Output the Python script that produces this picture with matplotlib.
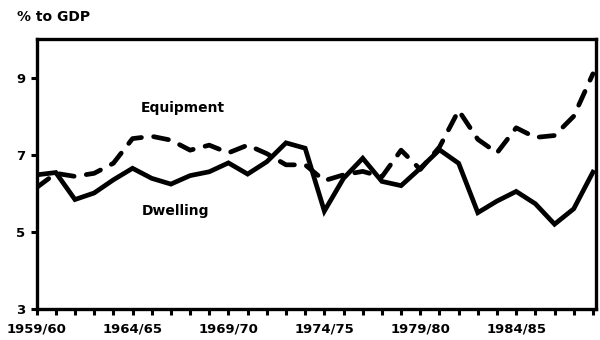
import matplotlib
matplotlib.use("Agg")
import matplotlib.pyplot as plt

years = [f"{y}/{(y + 1) % 100:02d}" for y in range(1959, 1989)]
dwelling = [6.48, 6.54, 5.84, 6.01, 6.35, 6.65, 6.39, 6.24, 6.46, 6.56,
            6.79, 6.50, 6.82, 7.31, 7.17, 5.54, 6.39, 6.91, 6.31, 6.20,
            6.65, 7.13, 6.78, 5.50, 5.80, 6.05, 5.73, 5.20, 5.60, 6.55]
equipment = [6.15, 6.52, 6.44, 6.52, 6.78, 7.42, 7.48, 7.38, 7.12, 7.25,
             7.05, 7.25, 7.03, 6.74, 6.74, 6.33, 6.48, 6.57, 6.43, 7.12,
             6.62, 7.20, 8.15, 7.40, 7.05, 7.70, 7.45, 7.50, 8.00, 9.10]
yticks = [3, 5, 7, 9]

plt.rcParams['font.family'] = ['DejaVu Sans']
plt.rcParams['font.weight'] = 'bold'

fig = plt.figure(figsize=(6, 3.4), dpi=100)
ax = fig.add_axes([0.061, 0.091, 0.932, 0.794])

x = list(range(len(years)))
ax.plot(x, dwelling, color='black', lw=3.4, solid_joinstyle='miter')
ax.plot(x, equipment, color='black', lw=3.4, dashes=(3.2, 2.6),
        dash_capstyle='round')

ax.set_xlim(0, 29.15)
ax.set_ylim(3, 10)
ax.set_yticks(yticks)
ax.set_yticklabels([str(v) for v in yticks])
ax.set_xticks(x)
ax.set_xticklabels([lab if i % 5 == 0 else '' for i, lab in enumerate(years)])

for s in ax.spines.values():
    s.set_linewidth(2.4)
ax.tick_params(axis='both', direction='out', length=4, width=2.2,
               labelsize=9.5, pad=4)
ax.tick_params(axis='x', pad=6)

# series labels sit inside the plot
ax.text(7.6, 8.22, 'Equipment', ha='center', va='center', fontsize=10,
        fontweight='bold')
ax.text(7.25, 5.53, 'Dwelling', ha='center', va='center', fontsize=10,
        fontweight='bold')
fig.text(0.028, 0.95, '% to GDP', ha='left', va='center', fontsize=10,
         fontweight='bold')

fig.savefig('out.png', dpi=100)
